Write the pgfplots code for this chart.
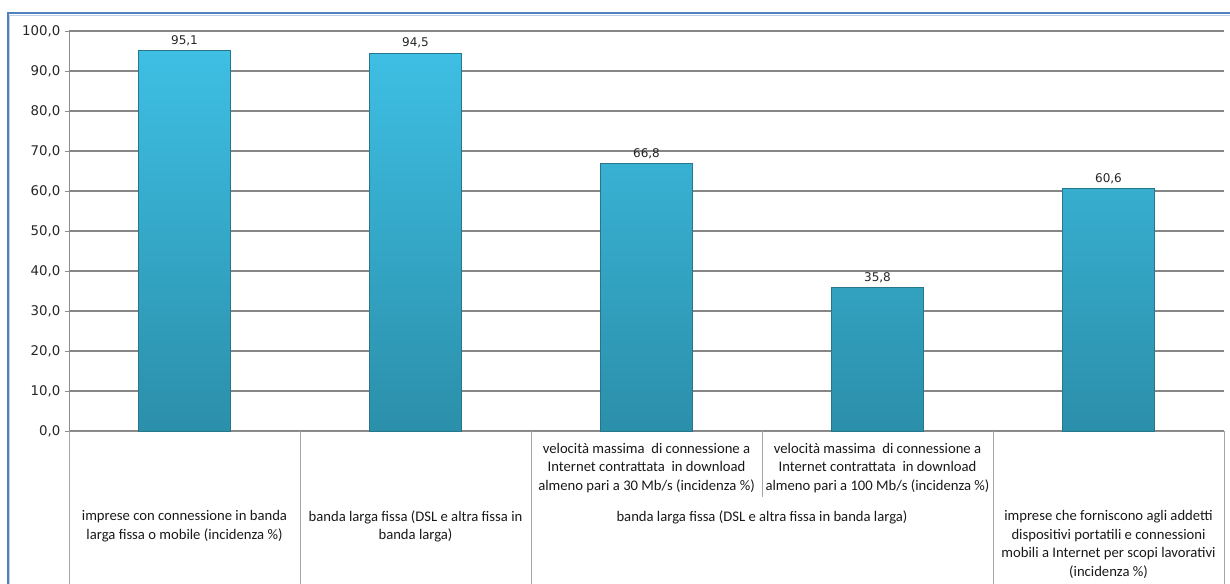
\documentclass[border=0pt]{standalone}
\usepackage{fontspec}
\setmainfont{Carlito}
\newfontfamily\tahoma{DejaVu Sans}
\usepackage{pgfplots}
\pgfplotsset{compat=1.18}

\definecolor{bartop}{RGB}{62,191,228}
\definecolor{barbot}{RGB}{43,143,170}
\definecolor{baredge}{RGB}{38,118,140}
\definecolor{gridc}{RGB}{134,134,134}
\definecolor{sepc}{RGB}{165,165,165}
\definecolor{frameblue}{RGB}{79,129,189}
\definecolor{framelight}{RGB}{190,208,232}

\begin{document}
\begin{tikzpicture}[x=0.75pt,y=0.75pt]
% outer chart frame (runs off the right and bottom edges)
\draw[frameblue,line width=1.5pt] (7.5,-20) -- (7.5,569.5) -- (1250,569.5);
\draw[framelight,line width=1pt] (9.6,-20) -- (9.6,567.4) -- (1250,567.4);

\begin{axis}[
  at={(51.75pt,114pt)}, anchor=south west,
  scale only axis, width=866.25pt, height=300pt,
  xmin=-0.5, xmax=4.5, ymin=0, ymax=100,
  axis x line*=bottom, axis y line*=left,
  axis line style={-, draw=gray!90},
  xtick=\empty,
  ytick={0,10,...,100},
  ymajorgrids,
  grid style={gridc, line width=0.8pt},
  tick align=outside, major tick length=3pt,
  ytick style={gray!90},
  yticklabel style={font=\tahoma\fontsize{10}{12}\selectfont, text=black!85},
  /pgf/number format/.cd, fixed, fixed zerofill, precision=1, use comma,
  assume math mode=true,
  /pgfplots/.cd,
  clip=false,
]
\addplot[ybar, bar width=0.4, draw=baredge, line width=0.6pt,
  top color=bartop, bottom color=barbot,
  nodes near coords={\pgfmathprintnumber[fixed,fixed zerofill,precision=1,use comma]{\pgfplotspointmeta}},
  every node near coord/.append style={font=\tahoma\fontsize{9}{11}\selectfont, text=black!85, anchor=south, yshift=0pt}]
  coordinates {(0,95.1) (1,94.5) (2,66.8) (3,35.8) (4,60.6)};

% category separators
\draw[sepc,line width=0.75pt] (axis cs:-0.5,0) -- (axis cs:-0.5,-40);
\draw[sepc,line width=0.75pt] (axis cs:0.5,0) -- (axis cs:0.5,-40);
\draw[sepc,line width=0.75pt] (axis cs:1.5,0) -- (axis cs:1.5,-40);
\draw[sepc,line width=0.75pt] (axis cs:2.5,0) -- (axis cs:2.5,-16.5);
\draw[sepc,line width=0.75pt] (axis cs:3.5,0) -- (axis cs:3.5,-40);
\draw[sepc,line width=0.75pt] (axis cs:4.5,0) -- (axis cs:4.5,-40);

% inner level labels
\tikzset{lab/.style={anchor=north, align=center, inner sep=0pt,
  font=\fontsize{11}{13.9}\selectfont, text=black!90}}
\node[lab] at (axis cs:2,-3) {velocità massima \ di connessione a\\Internet contrattata \ in download\\almeno pari a 30 Mb/s (incidenza \%)};
\node[lab] at (axis cs:3,-3) {velocità massima \ di connessione a\\Internet contrattata \ in download\\almeno pari a 100 Mb/s (incidenza \%)};

% outer level labels
\node[lab] at (axis cs:0,-19.8) {imprese con connessione in banda\\larga fissa o mobile (incidenza \%)};
\node[lab] at (axis cs:1,-19.8) {banda larga fissa (DSL e altra fissa in\\banda larga)};
\node[lab] at (axis cs:2.5,-19.8) {banda larga fissa (DSL e altra fissa in banda larga)};
\node[lab] at (axis cs:4,-19.8) {imprese che forniscono agli addetti\\dispositivi portatili e connessioni\\mobili a Internet per scopi lavorativi\\(incidenza \%)};
\end{axis}
\pgfresetboundingbox
\useasboundingbox (0pt,0pt) rectangle (922.5pt,437.25pt);
\end{tikzpicture}
\end{document}
